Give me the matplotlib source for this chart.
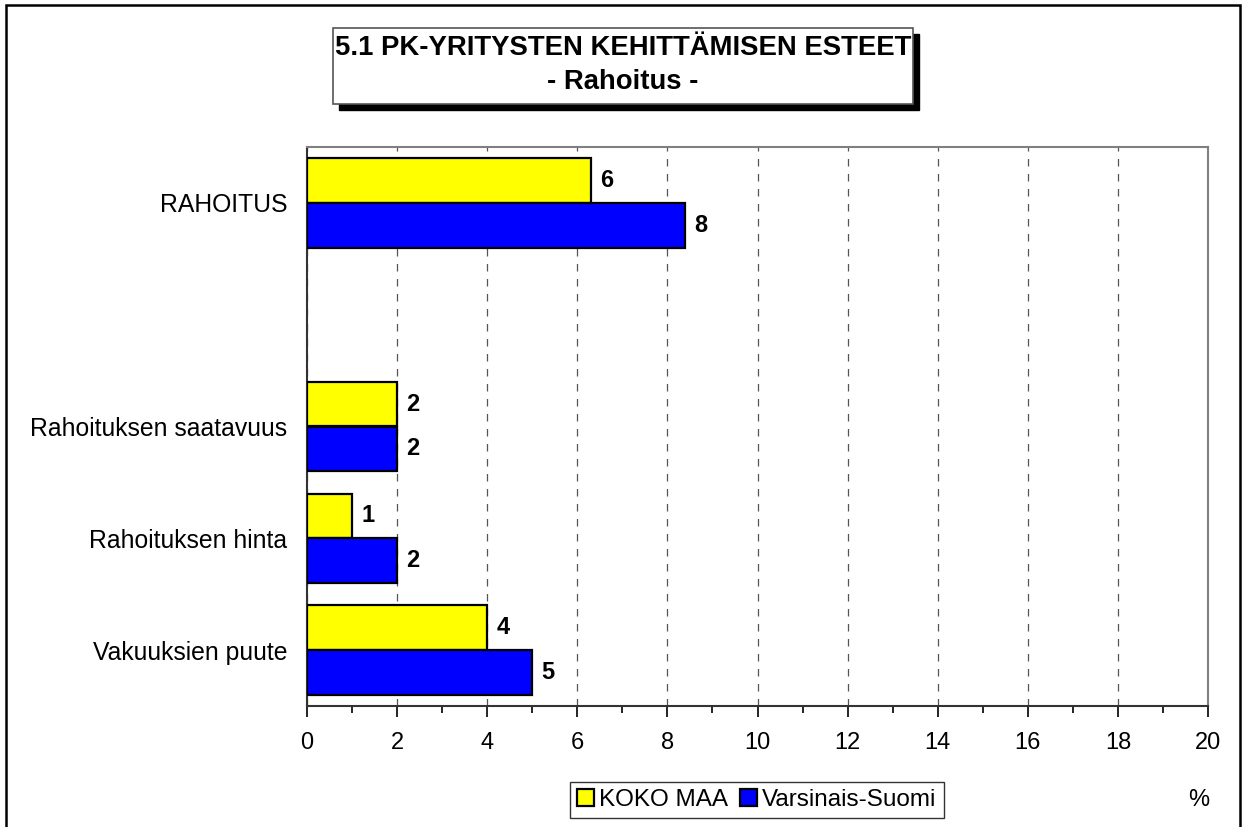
import numpy as np
import matplotlib
matplotlib.use("Agg")
from matplotlib import pyplot as plt
from matplotlib.patches import Rectangle
from matplotlib.ticker import MultipleLocator

plt.rcParams['font.family'] = ['Liberation Sans', 'DejaVu Sans']

# data, top to bottom ('' = empty slot in the chart)
categories = ["RAHOITUS", "", "Rahoituksen saatavuus", "Rahoituksen hinta", "Vakuuksien puute"]
koko_maa = [6.3, None, 2, 1, 4]
varsinais_suomi = [8.4, None, 2, 2, 5]
series_names = ["KOKO MAA", "Varsinais-Suomi"]
colors = ["#FFFF00", "#0000FF"]

fig = plt.figure(figsize=(12.48, 8.27), dpi=100)
ax = fig.add_axes((307 / 1248, 1 - 706 / 827, 901 / 1248, 559 / 827))

y = np.arange(len(categories))
h = 0.4
for vals, off, col, name in [(koko_maa, -h / 2, colors[0], series_names[0]),
                             (varsinais_suomi, h / 2, colors[1], series_names[1])]:
    idx = [i for i, v in enumerate(vals) if v is not None]
    vv = [vals[i] for i in idx]
    bars = ax.barh(y[idx] + off, vv, height=h, color=col, edgecolor="black",
                   linewidth=1.6, label=name, zorder=3)
    for b, v in zip(bars, vv):
        ax.text(b.get_width() + 0.2, b.get_y() + b.get_height() / 2, f"{v:.0f}",
                va="center", ha="left", fontsize=17, fontweight="bold", zorder=4)

ax.set_ylim(len(categories) - 0.5, -0.5)
ax.set_yticks(y)
ax.set_yticklabels(categories, fontsize=17.8)
ax.tick_params(axis="y", length=0, pad=14)

ax.set_xlim(0, 20)
ax.xaxis.set_major_locator(MultipleLocator(2))
ax.xaxis.set_minor_locator(MultipleLocator(1))
ax.tick_params(axis="x", which="major", length=8, width=1.2, labelsize=17, pad=11, direction="out")
ax.tick_params(axis="x", which="minor", length=5, width=1.2, direction="out")
ax.grid(axis="x", which="major", linestyle=(0, (6, 6)), color="#555555", linewidth=0.9, zorder=0)

for s in ["top", "right"]:
    ax.spines[s].set_color("#808080")
    ax.spines[s].set_linewidth(1.5)
for s in ["left", "bottom"]:
    ax.spines[s].set_color("#333333")
    ax.spines[s].set_linewidth(1.5)

# title box with shadow
fig.patches.append(Rectangle((339 / 1248, 1 - 110 / 827), 580 / 1248, 76 / 827,
                             transform=fig.transFigure, facecolor="black", edgecolor="black", zorder=1))
fig.patches.append(Rectangle((333 / 1248, 1 - 104 / 827), 580 / 1248, 76 / 827,
                             transform=fig.transFigure, facecolor="white", edgecolor="#555555",
                             linewidth=1.2, zorder=2))
fig.text(623 / 1248, 1 - 48 / 827, "5.1 PK-YRITYSTEN KEHITTÄMISEN ESTEET", ha="center", va="center",
         fontsize=19.8, fontweight="bold", zorder=3)
fig.text(623 / 1248, 1 - 82 / 827, "- Rahoitus -", ha="center", va="center",
         fontsize=19.8, fontweight="bold", zorder=3)

leg = fig.legend(loc="center", bbox_to_anchor=(757 / 1248, 1 - 800 / 827), ncol=2, fontsize=17.5,
                 frameon=True, fancybox=False, edgecolor="black", handlelength=0.7, handleheight=0.65,
                 handletextpad=0.2, columnspacing=0.5, borderpad=0.3, borderaxespad=0)
leg.get_frame().set_linewidth(1.0)

fig.text(1199 / 1248, 1 - 800 / 827, "%", ha="center", va="center", fontsize=17)

# outer frame
fig.patches.append(Rectangle((6 / 1248, -0.02), 1234 / 1248, 1 - 5 / 827 + 0.02,
                             transform=fig.transFigure, fill=False, edgecolor="black", linewidth=1.8))

fig.savefig("out.png", dpi=100)
